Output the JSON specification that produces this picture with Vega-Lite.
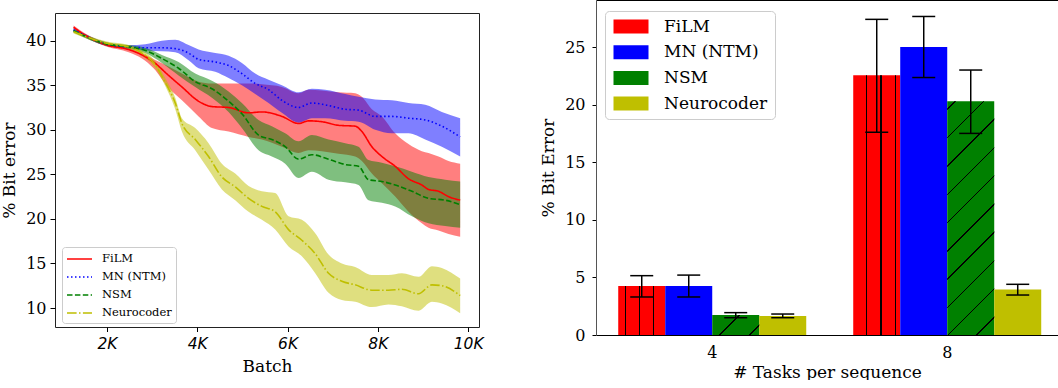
{
  "$schema": "https://vega.github.io/schema/vega-lite/v6.json",
  "padding": {"left": 0, "top": 0, "right": 0, "bottom": 0},
  "background": "white",
  "spacing": 55,
  "resolve": {"scale": {"color": "independent", "strokeDash": "independent"}, "legend": {"color": "independent", "strokeDash": "independent"}},
  "config": {
    "font": "DejaVu Serif",
    "view": {"stroke": null},
    "axis": {"labelFont": "DejaVu Serif", "titleFont": "DejaVu Serif", "labelColor": "#000", "titleColor": "#000", "titleFontWeight": "normal", "grid": false, "tickColor": "#000", "domainColor": "#000", "labelFontSize": 16, "titleFontSize": 17}
  },
  "datasets": {
    "curves": [
      {"m":"FiLM","b":1262,"y":41.5,"lo":41.3,"hi":41.7},{"m":"FiLM","b":1520,"y":40.6,"lo":40.4,"hi":40.8},{"m":"FiLM","b":2000,"y":39.5,"lo":39.3,"hi":39.7},{"m":"FiLM","b":2480,"y":39.0,"lo":38.7,"hi":39.2},{"m":"FiLM","b":2775,"y":38.4,"lo":38.0,"hi":38.6},{"m":"FiLM","b":3033,"y":37.6,"lo":36.9,"hi":37.9},{"m":"FiLM","b":3365,"y":36.1,"lo":34.7,"hi":37.1},{"m":"FiLM","b":3661,"y":34.8,"lo":33.3,"hi":36.3},{"m":"FiLM","b":4030,"y":33.2,"lo":31.5,"hi":35.4},{"m":"FiLM","b":4325,"y":32.6,"lo":30.2,"hi":35.2},{"m":"FiLM","b":4694,"y":32.5,"lo":29.8,"hi":35.2},{"m":"FiLM","b":5137,"y":31.9,"lo":29.2,"hi":35.2},{"m":"FiLM","b":5432,"y":32.0,"lo":28.9,"hi":35.1},{"m":"FiLM","b":5875,"y":31.5,"lo":28.1,"hi":34.8},{"m":"FiLM","b":6244,"y":30.7,"lo":27.4,"hi":34.1},{"m":"FiLM","b":6465,"y":31.0,"lo":27.7,"hi":34.5},{"m":"FiLM","b":6760,"y":30.9,"lo":27.6,"hi":34.4},{"m":"FiLM","b":7129,"y":30.5,"lo":27.3,"hi":34.2},{"m":"FiLM","b":7498,"y":30.4,"lo":27.0,"hi":34.1},{"m":"FiLM","b":7646,"y":29.8,"lo":26.5,"hi":33.7},{"m":"FiLM","b":7867,"y":28.1,"lo":25.1,"hi":32.3},{"m":"FiLM","b":8089,"y":27.0,"lo":24.0,"hi":31.5},{"m":"FiLM","b":8384,"y":25.9,"lo":22.5,"hi":29.6},{"m":"FiLM","b":8679,"y":24.5,"lo":20.8,"hi":28.4},{"m":"FiLM","b":8974,"y":23.8,"lo":19.5,"hi":27.6},{"m":"FiLM","b":9122,"y":23.3,"lo":19.0,"hi":27.4},{"m":"FiLM","b":9343,"y":23.1,"lo":18.7,"hi":27.0},{"m":"FiLM","b":9565,"y":22.5,"lo":18.3,"hi":26.5},{"m":"FiLM","b":9823,"y":22.1,"lo":18.0,"hi":26.2},
      {"m":"MN (NTM)","b":1262,"y":41.2,"lo":41.0,"hi":41.4},{"m":"MN (NTM)","b":2000,"y":39.6,"lo":39.4,"hi":39.8},{"m":"MN (NTM)","b":2480,"y":39.3,"lo":39.1,"hi":39.5},{"m":"MN (NTM)","b":2849,"y":39.2,"lo":38.9,"hi":39.6},{"m":"MN (NTM)","b":3218,"y":39.2,"lo":38.8,"hi":40.0},{"m":"MN (NTM)","b":3513,"y":39.1,"lo":38.7,"hi":40.1},{"m":"MN (NTM)","b":3808,"y":38.6,"lo":37.8,"hi":39.5},{"m":"MN (NTM)","b":4030,"y":37.9,"lo":36.9,"hi":39.0},{"m":"MN (NTM)","b":4399,"y":37.6,"lo":36.5,"hi":38.6},{"m":"MN (NTM)","b":4694,"y":37.2,"lo":35.8,"hi":38.3},{"m":"MN (NTM)","b":4989,"y":36.3,"lo":35.0,"hi":37.5},{"m":"MN (NTM)","b":5284,"y":35.2,"lo":34.0,"hi":36.3},{"m":"MN (NTM)","b":5579,"y":34.5,"lo":33.0,"hi":35.6},{"m":"MN (NTM)","b":5875,"y":33.3,"lo":31.9,"hi":35.0},{"m":"MN (NTM)","b":6244,"y":32.5,"lo":30.8,"hi":34.2},{"m":"MN (NTM)","b":6539,"y":33.0,"lo":31.3,"hi":34.6},{"m":"MN (NTM)","b":6834,"y":32.8,"lo":31.3,"hi":34.5},{"m":"MN (NTM)","b":7277,"y":32.3,"lo":31.0,"hi":34.0},{"m":"MN (NTM)","b":7572,"y":32.2,"lo":30.9,"hi":33.7},{"m":"MN (NTM)","b":7941,"y":31.5,"lo":30.0,"hi":33.4},{"m":"MN (NTM)","b":8310,"y":31.5,"lo":29.6,"hi":33.3},{"m":"MN (NTM)","b":8679,"y":31.3,"lo":29.6,"hi":33.0},{"m":"MN (NTM)","b":9048,"y":31.1,"lo":28.9,"hi":32.8},{"m":"MN (NTM)","b":9417,"y":30.4,"lo":28.1,"hi":32.0},{"m":"MN (NTM)","b":9823,"y":29.2,"lo":27.0,"hi":31.3},
      {"m":"NSM","b":1262,"y":41.1,"lo":40.9,"hi":41.3},{"m":"NSM","b":2000,"y":39.6,"lo":39.4,"hi":39.8},{"m":"NSM","b":2480,"y":39.3,"lo":39.1,"hi":39.5},{"m":"NSM","b":2849,"y":38.9,"lo":38.6,"hi":39.2},{"m":"NSM","b":3218,"y":38.0,"lo":37.5,"hi":38.4},{"m":"NSM","b":3587,"y":36.9,"lo":36.1,"hi":37.6},{"m":"NSM","b":3956,"y":35.4,"lo":34.8,"hi":36.3},{"m":"NSM","b":4325,"y":34.6,"lo":33.6,"hi":35.5},{"m":"NSM","b":4694,"y":33.2,"lo":32.0,"hi":34.3},{"m":"NSM","b":4989,"y":31.8,"lo":30.2,"hi":33.0},{"m":"NSM","b":5358,"y":29.4,"lo":27.7,"hi":31.1},{"m":"NSM","b":5653,"y":28.9,"lo":27.0,"hi":30.4},{"m":"NSM","b":5948,"y":28.1,"lo":26.2,"hi":29.6},{"m":"NSM","b":6244,"y":26.7,"lo":24.6,"hi":28.7},{"m":"NSM","b":6539,"y":27.2,"lo":25.3,"hi":29.4},{"m":"NSM","b":6908,"y":26.7,"lo":24.4,"hi":28.9},{"m":"NSM","b":7277,"y":26.1,"lo":24.1,"hi":28.5},{"m":"NSM","b":7572,"y":25.9,"lo":23.8,"hi":28.1},{"m":"NSM","b":7793,"y":24.4,"lo":22.1,"hi":26.6},{"m":"NSM","b":8089,"y":24.2,"lo":21.8,"hi":26.3},{"m":"NSM","b":8384,"y":23.8,"lo":21.4,"hi":25.9},{"m":"NSM","b":8753,"y":23.1,"lo":20.3,"hi":25.3},{"m":"NSM","b":9122,"y":22.3,"lo":19.5,"hi":24.7},{"m":"NSM","b":9491,"y":22.1,"lo":19.2,"hi":24.4},{"m":"NSM","b":9823,"y":21.6,"lo":19.0,"hi":24.2},
      {"m":"Neurocoder","b":1262,"y":41.0,"lo":40.8,"hi":41.2},{"m":"Neurocoder","b":2000,"y":39.7,"lo":39.5,"hi":39.9},{"m":"Neurocoder","b":2480,"y":39.3,"lo":39.1,"hi":39.5},{"m":"Neurocoder","b":2775,"y":38.6,"lo":38.3,"hi":38.9},{"m":"Neurocoder","b":3070,"y":37.3,"lo":36.9,"hi":37.7},{"m":"Neurocoder","b":3292,"y":35.3,"lo":34.9,"hi":35.8},{"m":"Neurocoder","b":3513,"y":33.0,"lo":32.3,"hi":33.6},{"m":"Neurocoder","b":3661,"y":30.7,"lo":29.8,"hi":31.3},{"m":"Neurocoder","b":3956,"y":28.9,"lo":27.7,"hi":30.2},{"m":"Neurocoder","b":4251,"y":27.0,"lo":25.5,"hi":28.5},{"m":"Neurocoder","b":4546,"y":24.7,"lo":23.3,"hi":26.2},{"m":"Neurocoder","b":4841,"y":23.6,"lo":22.1,"hi":25.1},{"m":"Neurocoder","b":5137,"y":22.3,"lo":20.8,"hi":23.7},{"m":"Neurocoder","b":5432,"y":21.4,"lo":19.9,"hi":23.1},{"m":"Neurocoder","b":5727,"y":20.8,"lo":18.8,"hi":22.9},{"m":"Neurocoder","b":6022,"y":18.8,"lo":16.9,"hi":20.3},{"m":"Neurocoder","b":6317,"y":17.6,"lo":15.8,"hi":19.9},{"m":"Neurocoder","b":6613,"y":16.1,"lo":13.9,"hi":18.4},{"m":"Neurocoder","b":6908,"y":13.9,"lo":11.7,"hi":16.0},{"m":"Neurocoder","b":7203,"y":13.0,"lo":10.9,"hi":15.0},{"m":"Neurocoder","b":7498,"y":12.6,"lo":10.7,"hi":14.6},{"m":"Neurocoder","b":7867,"y":12.0,"lo":10.1,"hi":13.7},{"m":"Neurocoder","b":8236,"y":12.0,"lo":10.4,"hi":13.7},{"m":"Neurocoder","b":8531,"y":12.1,"lo":10.2,"hi":13.9},{"m":"Neurocoder","b":8900,"y":11.6,"lo":9.7,"hi":13.5},{"m":"Neurocoder","b":9196,"y":12.6,"lo":10.7,"hi":14.7},{"m":"Neurocoder","b":9417,"y":12.5,"lo":10.5,"hi":14.5},{"m":"Neurocoder","b":9823,"y":11.4,"lo":9.4,"hi":13.3}
    ],
    "bars": [
      {"task":"4","m":"FiLM","v":4.25,"lo":3.3,"hi":5.15},
      {"task":"4","m":"MN (NTM)","v":4.25,"lo":3.3,"hi":5.2},
      {"task":"4","m":"NSM","v":1.74,"lo":1.5,"hi":1.94},
      {"task":"4","m":"Neurocoder","v":1.65,"lo":1.5,"hi":1.82},
      {"task":"8","m":"FiLM","v":22.55,"lo":17.6,"hi":27.4},
      {"task":"8","m":"MN (NTM)","v":25.0,"lo":22.35,"hi":27.65},
      {"task":"8","m":"NSM","v":20.3,"lo":17.5,"hi":23.0},
      {"task":"8","m":"Neurocoder","v":3.96,"lo":3.47,"hi":4.4}
    ],
    "empty": []
  },
  "hconcat": [
    {
      "spacing": 11,
      "vconcat": [
        {"width": 424, "height": 1, "data": {"name": "empty"}, "mark": "point"},
        {
          "width": 424,
          "height": 314,
          "view": {"stroke": "#222", "strokeWidth": 1},
          "data": {"name": "curves"},
          "layer": [
            {
              "mark": {"type": "area", "fillOpacity": 0.5, "interpolate": "monotone"},
              "encoding": {
                "x": {"field": "b", "type": "quantitative", "scale": {"domain": [850, 10240], "nice": false, "zero": false},
                      "axis": {"values": [2000, 4000, 6000, 8000, 10000], "labelExpr": "datum.value/1000 + 'K'", "labelFont": "DejaVu Sans", "labelFontStyle": "italic", "labelFontSize": 15.5, "title": "Batch", "tickSize": 4.5, "labelPadding": 5, "titlePadding": 6, "domain": false}},
                "y": {"field": "lo", "type": "quantitative", "scale": {"domain": [7.87, 43.1], "nice": false, "zero": false},
                      "axis": {"values": [10, 15, 20, 25, 30, 35, 40], "title": "% Bit error", "tickSize": 5, "labelPadding": 4, "titlePadding": 7, "domain": false}},
                "y2": {"field": "hi"},
                "color": {"field": "m", "type": "nominal", "scale": {"domain": ["FiLM", "MN (NTM)", "NSM", "Neurocoder"], "range": ["#ff0000", "#0000ff", "#008000", "#bfbf00"]}}
              }
            },
            {
              "mark": {"type": "line", "strokeWidth": 1.6, "interpolate": "monotone"},
              "encoding": {
                "x": {"field": "b", "type": "quantitative"},
                "y": {"field": "y", "type": "quantitative", "title": "% Bit error"},
                "color": {"field": "m", "type": "nominal", "scale": {"domain": ["FiLM", "MN (NTM)", "NSM", "Neurocoder"], "range": ["#ff0000", "#0000ff", "#008000", "#bfbf00"]},
                          "legend": {"orient": "none", "legendX": 7, "legendY": 247, "title": null, "symbolType": "M-1.785,0H1.785", "symbolSize": 196, "symbolStrokeWidth": 1.6, "symbolOpacity": 1, "symbolFillColor": "transparent", "labelFont": "DejaVu Serif", "labelFontSize": 11.5, "labelColor": "#000", "padding": 4, "rowPadding": 4, "symbolOffset": 5.5, "labelOffset": 14.5, "strokeColor": "#cccccc", "fillColor": "white", "cornerRadius": 3,
                                     "encode": {"symbols": {"update": {"opacity": {"value": 1}, "strokeOpacity": {"value": 1}}}}}},
                "strokeDash": {"field": "m", "type": "nominal", "scale": {"domain": ["FiLM", "MN (NTM)", "NSM", "Neurocoder"], "range": [[1, 0], [1.5, 2.5], [5.5, 2.4], [9.6, 2.4, 1.5, 2.4]]},
                          "legend": {"orient": "none", "legendX": 7, "legendY": 247, "title": null, "symbolType": "M-1.785,0H1.785", "symbolSize": 196, "symbolStrokeWidth": 1.6, "symbolOpacity": 1, "symbolFillColor": "transparent", "labelFont": "DejaVu Serif", "labelFontSize": 11.5, "labelColor": "#000", "padding": 4, "rowPadding": 4, "symbolOffset": 5.5, "labelOffset": 14.5, "strokeColor": "#cccccc", "fillColor": "white", "cornerRadius": 3,
                                     "encode": {"symbols": {"update": {"opacity": {"value": 1}, "strokeOpacity": {"value": 1}}}}}}
              }
            }
          ]
        }
      ]
    },
    {
      "width": 462,
      "height": 335,
      "view": {"stroke": null},
      "data": {"name": "bars"},
      "resolve": {"axis": {"x": "independent"}},
      "layer": [
        {
          "mark": {"type": "bar"},
          "encoding": {
            "x": {"field": "task", "type": "nominal", "scale": {"paddingInner": 0.2, "paddingOuter": 0.083, "align": 0.57},
                  "axis": {"labelAngle": 0, "ticks": false, "labelPadding": 9, "title": "# Tasks per sequence", "titlePadding": 4, "domainColor": "#000"}},
            "xOffset": {"field": "m", "type": "nominal", "scale": {"domain": ["FiLM", "MN (NTM)", "NSM", "Neurocoder"], "paddingInner": 0, "paddingOuter": 0}},
            "y": {"field": "v", "type": "quantitative", "scale": {"domain": [0, 29.08], "nice": false},
                  "axis": {"values": [0, 5, 10, 15, 20, 25], "title": "% Bit Error", "tickSize": 4, "labelPadding": 7, "titlePadding": 7, "domainColor": "#555"}},
            "color": {"field": "m", "type": "nominal", "scale": {"domain": ["FiLM", "MN (NTM)", "NSM", "Neurocoder"], "range": ["#ff0000", "#0000ff", "#008000", "#bfbf00"]},
                      "legend": {"orient": "none", "legendX": 9, "legendY": 11, "title": null, "symbolType": "M-2.5,-1H2.5V1H-2.5Z", "symbolSize": 196, "symbolStrokeWidth": 0, "symbolOpacity": 1, "labelFont": "DejaVu Serif", "labelFontSize": 17, "labelColor": "#000", "padding": 7, "rowPadding": 7.7, "symbolOffset": 10.5, "labelOffset": 24.5, "strokeColor": "#cccccc", "fillColor": "white", "cornerRadius": 4}}
          }
        },
        {
          "transform": [{"filter": "datum.m == 'FiLM' && datum.task == '4'"}],
          "mark": {"type": "bar", "fill": {"gradient": "linear", "x1": 0, "y1": 0, "x2": 1, "y2": 0, "stops": [
            {"offset": 0, "color": "rgba(0,0,0,0)"}, {"offset": 0.141, "color": "rgba(0,0,0,0)"}, {"offset": 0.141, "color": "#000"}, {"offset": 0.167, "color": "#000"}, {"offset": 0.167, "color": "rgba(0,0,0,0)"},
            {"offset": 0.444, "color": "rgba(0,0,0,0)"}, {"offset": 0.444, "color": "#000"}, {"offset": 0.47, "color": "#000"}, {"offset": 0.47, "color": "rgba(0,0,0,0)"},
            {"offset": 0.74, "color": "rgba(0,0,0,0)"}, {"offset": 0.74, "color": "#000"}, {"offset": 0.766, "color": "#000"}, {"offset": 0.766, "color": "rgba(0,0,0,0)"}, {"offset": 1, "color": "rgba(0,0,0,0)"}]}},
          "encoding": {
            "x": {"field": "task", "type": "nominal", "axis": null},
            "xOffset": {"field": "m", "type": "nominal"},
            "y": {"field": "v", "type": "quantitative", "title": "% Bit Error"}
          }
        },
        {
          "transform": [{"filter": "datum.m == 'FiLM' && datum.task == '8'"}],
          "mark": {"type": "bar", "fill": {"gradient": "linear", "x1": 0, "y1": 0, "x2": 1, "y2": 0, "stops": [
            {"offset": 0, "color": "rgba(0,0,0,0)"}, {"offset": 0.274, "color": "rgba(0,0,0,0)"}, {"offset": 0.274, "color": "#000"}, {"offset": 0.3, "color": "#000"}, {"offset": 0.3, "color": "rgba(0,0,0,0)"},
            {"offset": 0.577, "color": "rgba(0,0,0,0)"}, {"offset": 0.577, "color": "#000"}, {"offset": 0.603, "color": "#000"}, {"offset": 0.603, "color": "rgba(0,0,0,0)"},
            {"offset": 0.893, "color": "rgba(0,0,0,0)"}, {"offset": 0.893, "color": "#000"}, {"offset": 0.919, "color": "#000"}, {"offset": 0.919, "color": "rgba(0,0,0,0)"}, {"offset": 1, "color": "rgba(0,0,0,0)"}]}},
          "encoding": {
            "x": {"field": "task", "type": "nominal", "axis": null},
            "xOffset": {"field": "m", "type": "nominal"},
            "y": {"field": "v", "type": "quantitative", "title": "% Bit Error"}
          }
        },
        {
          "transform": [{"filter": "datum.m == 'NSM' && datum.task == '4'"}],
          "mark": {"type": "bar", "fill": {"gradient": "linear", "x1": 0, "y1": 0, "x2": 1.207, "y2": 0.514, "stops": [
            {"offset": 0, "color": "rgba(0,0,0,0)"}, {"offset": 0.39, "color": "rgba(0,0,0,0)"}, {"offset": 0.39, "color": "#000"}, {"offset": 0.415, "color": "#000"}, {"offset": 0.415, "color": "rgba(0,0,0,0)"},
            {"offset": 0.84, "color": "rgba(0,0,0,0)"}, {"offset": 0.84, "color": "#000"}, {"offset": 0.865, "color": "#000"}, {"offset": 0.865, "color": "rgba(0,0,0,0)"}, {"offset": 1, "color": "rgba(0,0,0,0)"}]}},
          "encoding": {
            "x": {"field": "task", "type": "nominal", "axis": null},
            "xOffset": {"field": "m", "type": "nominal"},
            "y": {"field": "v", "type": "quantitative", "title": "% Bit Error"}
          }
        },
        {
          "transform": [{"filter": "datum.m == 'NSM' && datum.task == '8'"}],
          "mark": {"type": "bar", "fill": {"gradient": "linear", "x1": 0, "y1": 0, "x2": 0.232, "y2": 1.154, "stops": [
            {"offset": 0, "color": "rgba(0,0,0,0)"},
            {"offset": 0.027, "color": "rgba(0,0,0,0)"}, {"offset": 0.027, "color": "#000"}, {"offset": 0.033, "color": "#000"}, {"offset": 0.033, "color": "rgba(0,0,0,0)"},
            {"offset": 0.128, "color": "rgba(0,0,0,0)"}, {"offset": 0.128, "color": "#000"}, {"offset": 0.134, "color": "#000"}, {"offset": 0.134, "color": "rgba(0,0,0,0)"},
            {"offset": 0.229, "color": "rgba(0,0,0,0)"}, {"offset": 0.229, "color": "#000"}, {"offset": 0.235, "color": "#000"}, {"offset": 0.235, "color": "rgba(0,0,0,0)"},
            {"offset": 0.330, "color": "rgba(0,0,0,0)"}, {"offset": 0.330, "color": "#000"}, {"offset": 0.336, "color": "#000"}, {"offset": 0.336, "color": "rgba(0,0,0,0)"},
            {"offset": 0.430, "color": "rgba(0,0,0,0)"}, {"offset": 0.430, "color": "#000"}, {"offset": 0.436, "color": "#000"}, {"offset": 0.436, "color": "rgba(0,0,0,0)"},
            {"offset": 0.531, "color": "rgba(0,0,0,0)"}, {"offset": 0.531, "color": "#000"}, {"offset": 0.537, "color": "#000"}, {"offset": 0.537, "color": "rgba(0,0,0,0)"},
            {"offset": 0.632, "color": "rgba(0,0,0,0)"}, {"offset": 0.632, "color": "#000"}, {"offset": 0.638, "color": "#000"}, {"offset": 0.638, "color": "rgba(0,0,0,0)"},
            {"offset": 0.733, "color": "rgba(0,0,0,0)"}, {"offset": 0.733, "color": "#000"}, {"offset": 0.739, "color": "#000"}, {"offset": 0.739, "color": "rgba(0,0,0,0)"},
            {"offset": 0.833, "color": "rgba(0,0,0,0)"}, {"offset": 0.833, "color": "#000"}, {"offset": 0.839, "color": "#000"}, {"offset": 0.839, "color": "rgba(0,0,0,0)"},
            {"offset": 0.934, "color": "rgba(0,0,0,0)"}, {"offset": 0.934, "color": "#000"}, {"offset": 0.940, "color": "#000"}, {"offset": 0.940, "color": "rgba(0,0,0,0)"},
            {"offset": 1, "color": "rgba(0,0,0,0)"}]}},
          "encoding": {
            "x": {"field": "task", "type": "nominal", "axis": null},
            "xOffset": {"field": "m", "type": "nominal"},
            "y": {"field": "v", "type": "quantitative", "title": "% Bit Error"}
          }
        },
        {
          "mark": {"type": "rule", "strokeWidth": 1.5, "color": "#000"},
          "encoding": {
            "x": {"field": "task", "type": "nominal", "axis": {"orient": "top", "labels": false, "ticks": false, "title": null, "domainColor": "#000"}},
            "xOffset": {"field": "m", "type": "nominal"},
            "y": {"field": "lo", "type": "quantitative", "title": "% Bit Error"},
            "y2": {"field": "hi"}
          }
        },
        {
          "mark": {"type": "tick", "thickness": 1.5, "size": 23, "color": "#000", "opacity": 1},
          "encoding": {
            "x": {"field": "task", "type": "nominal", "axis": null},
            "xOffset": {"field": "m", "type": "nominal"},
            "y": {"field": "lo", "type": "quantitative", "title": "% Bit Error"}
          }
        },
        {
          "mark": {"type": "tick", "thickness": 1.5, "size": 23, "color": "#000", "opacity": 1},
          "encoding": {
            "x": {"field": "task", "type": "nominal", "axis": null},
            "xOffset": {"field": "m", "type": "nominal"},
            "y": {"field": "hi", "type": "quantitative", "title": "% Bit Error"}
          }
        }
      ]
    }
  ]
}
